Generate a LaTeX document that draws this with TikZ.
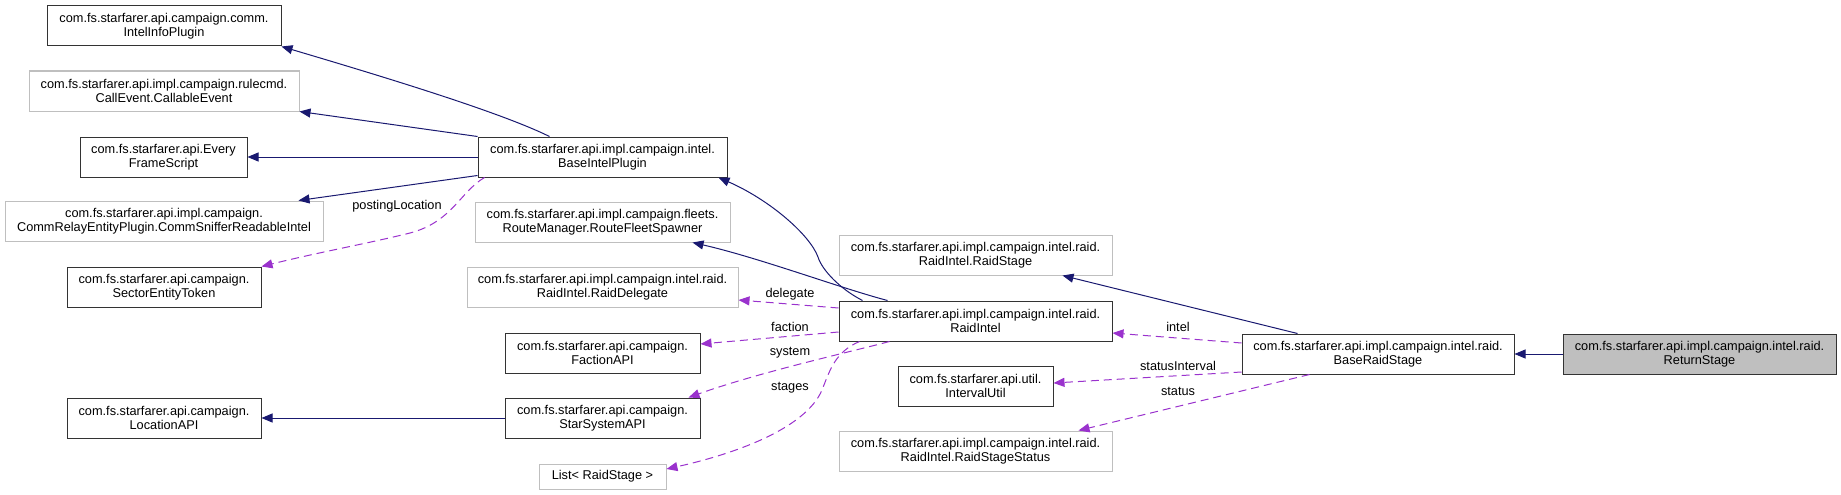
\documentclass[tikz,border=0pt]{standalone}
\usepackage{fontspec}
\setmainfont{Liberation Sans}
\usetikzlibrary{arrows.meta}
\definecolor{inh}{HTML}{191970}
\definecolor{usec}{HTML}{9A32CD}
\definecolor{gb}{HTML}{BFBFBF}
\definecolor{db}{HTML}{333333}
\begin{document}
\begin{tikzpicture}[x=1pt,y=-1pt,
  every node/.style={font=\fontsize{12.75}{14.5}\selectfont},
  cls/.style={draw=db, line width=1pt, fill=white, minimum height=40pt, inner sep=0pt, align=center, text=black},
  ext/.style={cls, draw=gb},
  cur/.style={cls, fill=gb},
  inhe/.style={draw=inh, line width=1pt, -{Triangle[length=11pt,width=9pt]}},
  usee/.style={draw=usec, line width=1pt, dash pattern=on 8pt off 5pt, -{Triangle[length=11pt,width=9pt]}},
  lbl/.style={inner sep=0pt, text=black}]
\useasboundingbox (0,0) rectangle (1841,495);
% left column
\node[cls, minimum width=234pt] (iip) at (164,26) {com.fs.starfarer.api.campaign.comm.\\IntelInfoPlugin};
\node[ext, minimum width=270pt] (ce) at (164,91) {com.fs.starfarer.api.impl.campaign.rulecmd.\\CallEvent.CallableEvent};
\node[cls, minimum width=167pt] (efs) at (163.5,157) {com.fs.starfarer.api.Every\\FrameScript};
\node[ext, minimum width=318pt] (cs) at (164,221) {com.fs.starfarer.api.impl.campaign.\\CommRelayEntityPlugin.CommSnifferReadableIntel};
\node[cls, minimum width=194pt] (set) at (164,287) {com.fs.starfarer.api.campaign.\\SectorEntityToken};
\node[cls, minimum width=194pt] (loc) at (164,418) {com.fs.starfarer.api.campaign.\\LocationAPI};
% middle column
\node[cls, minimum width=249pt] (bip) at (602.5,157) {com.fs.starfarer.api.impl.campaign.intel.\\BaseIntelPlugin};
\node[ext, minimum width=255pt] (rfs) at (602.5,222) {com.fs.starfarer.api.impl.campaign.fleets.\\RouteManager.RouteFleetSpawner};
\node[ext, minimum width=271pt] (rd) at (602.5,287) {com.fs.starfarer.api.impl.campaign.intel.raid.\\RaidIntel.RaidDelegate};
\node[cls, minimum width=195pt] (fac) at (602.5,353) {com.fs.starfarer.api.campaign.\\FactionAPI};
\node[cls, minimum width=195pt] (ssa) at (602.5,418) {com.fs.starfarer.api.campaign.\\StarSystemAPI};
\node[ext, minimum width=127pt, minimum height=25pt] (lst) at (602.5,476.5) {List< RaidStage >};
% right-middle column
\node[ext, minimum width=273pt] (rs) at (975.5,255) {com.fs.starfarer.api.impl.campaign.intel.raid.\\RaidIntel.RaidStage};
\node[cls, minimum width=273pt] (ri) at (975.5,321) {com.fs.starfarer.api.impl.campaign.intel.raid.\\RaidIntel};
\node[cls, minimum width=155pt] (iu) at (975.5,386) {com.fs.starfarer.api.util.\\IntervalUtil};
\node[ext, minimum width=273pt] (rss) at (975.5,451) {com.fs.starfarer.api.impl.campaign.intel.raid.\\RaidIntel.RaidStageStatus};
% right
\node[cls, minimum width=272pt] (brs) at (1378,354) {com.fs.starfarer.api.impl.campaign.intel.raid.\\BaseRaidStage};
\node[cur, minimum width=273pt] (ret) at (1699.5,354) {com.fs.starfarer.api.impl.campaign.intel.raid.\\ReturnStage};
% inheritance edges
\draw[inhe] ([xshift=72pt]bip.north west) .. controls (500,112) and (381,76) .. (iip.south east);
\draw[inhe] (bip.north west) -- (ce.south east);
\draw[inhe] (bip.west) -- (efs.east);
\draw[inhe] ([yshift=2pt]bip.south west) -- ([xshift=-25pt]cs.north east);
\draw[inhe] ([xshift=24pt]ri.north west) .. controls (840,289) and (822,270) .. (818,257) .. controls (810,235) and (770,200) .. ([xshift=-9pt]bip.south east);
\draw[inhe] ([xshift=49pt]ri.north west) .. controls (840,288) and (760,258) .. ([xshift=-38pt]rfs.south east);
\draw[inhe] ([xshift=56pt]brs.north west) -- ([xshift=-50pt]rs.south east);
\draw[inhe] (ret.west) -- (brs.east);
\draw[inhe] (ssa.west) -- (loc.east);
% usage edges
\draw[usee] ([xshift=7pt]bip.south west) .. controls (460,192) and (452,222) .. (410,233) .. controls (370,243) and (320,252) .. (set.north east);
\draw[usee] ([yshift=13pt]ri.west) -- ([yshift=-13pt]rd.east);
\draw[usee] ([yshift=-11pt]ri.west) -- ([yshift=9pt]fac.east);
\draw[usee] ([xshift=51pt]ri.south west) .. controls (850,352) and (760,372) .. ([xshift=-12pt]ssa.north east);
\draw[usee] ([xshift=21pt]ri.south west) .. controls (835,352) and (830,370) .. (822,390) .. controls (805,430) and (730,455) .. ([yshift=7.5pt]lst.east);
\draw[usee] ([yshift=11pt]brs.west) -- ([yshift=-12pt]ri.east);
\draw[usee] ([yshift=-18pt]brs.west) -- ([yshift=3pt]iu.east);
\draw[usee] ([xshift=68pt]brs.south west) -- ([xshift=-34pt]rss.north east);
% labels
\node[lbl] (lpl) at (397,206) {postingLocation};
\node[lbl] (ldel) at (790,294) {delegate};
\node[lbl] (lfac) at (790,327) {faction};
\node[lbl] (lsys) at (790,353) {system};
\node[lbl] (lstg) at (790,388) {stages};
\node[lbl] (lint) at (1178,327) {intel};
\node[lbl] (lsi) at (1178,366) {statusInterval};
\node[lbl] (lst2) at (1178,391) {status};
\end{tikzpicture}
\end{document}
